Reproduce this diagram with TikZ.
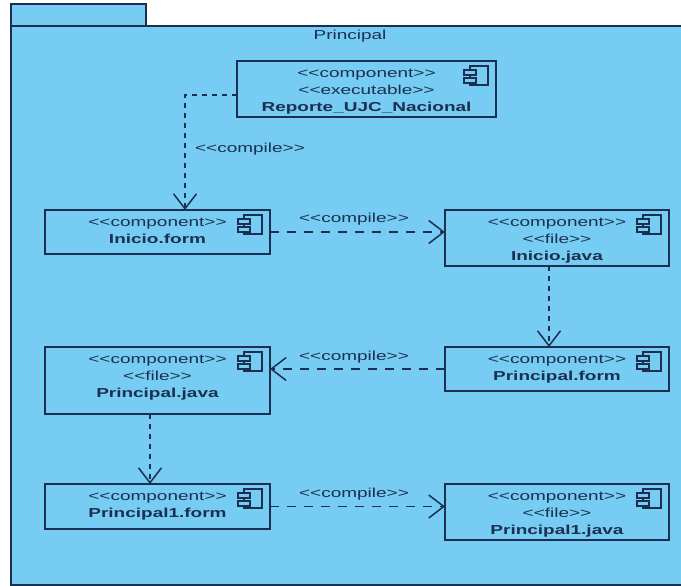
\documentclass[tikz,border=0pt]{standalone}
\usepackage{fontspec}
\usetikzlibrary{arrows.meta,calc}
\newfontfamily\umlfont[FakeStretch=1.46]{Liberation Sans}
\definecolor{pkgfill}{HTML}{76CCF2}
\definecolor{umlline}{HTML}{1B2F50}
\newcommand{\boxbody}[3]{\parbox[c][#2pt][t]{#1pt}{\centering\setlength{\baselineskip}{17pt}\rule{0pt}{16.5pt}#3}}
\newcommand{\nm}[1]{\textbf{#1}}
\tikzset{
  x=1pt,y=-1pt,
  pkgpart/.style={draw=umlline,line width=1.4pt,fill=pkgfill},
  compbox/.style={draw=umlline,line width=1.3pt,fill=pkgfill,inner sep=0pt,outer sep=0pt,text=umlline,font=\umlfont\fontsize{13}{17}\selectfont},
  deplabel/.style={text=umlline,inner sep=0pt,font=\umlfont\fontsize{13}{17}\selectfont},
  dep/.style={draw=umlline,line width=1.3pt,dash pattern=on 5pt off 5pt,-{Straight Barb[length=15pt,width=23pt,line width=1.5pt]}},
  dephoriz/.style={dep,dash pattern=on 9pt off 8pt},
  compicon/.pic={
    \draw[umlline,line width=1.2pt] (-26,5) rectangle (-8,24);
    \draw[umlline,line width=1.2pt,fill=pkgfill] (-32,9) rectangle (-20,14);
    \draw[umlline,line width=1.2pt,fill=pkgfill] (-32,17) rectangle (-20,22);
  }
}
\begin{document}
\begin{tikzpicture}
\useasboundingbox (0,0) rectangle (681,586);
\clip (0,0) rectangle (681,586);
\fill[white] (0,0) rectangle (681,586);
\draw[pkgpart] (11,26) |- (146,4) |- cycle;
\draw[pkgpart] (11,26) rectangle (700,585);
\node[deplabel] (title) at (350,36) {Principal};

\node[compbox] (rep) at (366.5,89) {\boxbody{259}{56}{<<component>>\\<<executable>>\\\nm{Reporte\_UJC\_Nacional}}};
\node[compbox] (inif) at (157.5,232) {\boxbody{225}{44}{<<component>>\\\nm{Inicio.form}}};
\node[compbox] (inij) at (557,238) {\boxbody{224}{56}{<<component>>\\<<file>>\\\nm{Inicio.java}}};
\node[compbox] (prif) at (557,369) {\boxbody{224}{44}{<<component>>\\\nm{Principal.form}}};
\node[compbox] (prij) at (157.5,380.5) {\boxbody{225}{67}{<<component>>\\<<file>>\\\nm{Principal.java}}};
\node[compbox] (pr1f) at (157.5,506.5) {\boxbody{225}{45}{<<component>>\\\nm{Principal1.form}}};
\node[compbox] (pr1j) at (557,512) {\boxbody{224}{56}{<<component>>\\<<file>>\\\nm{Principal1.java}}};

\foreach \n in {rep,inif,inij,prif,prij,pr1f,pr1j}
  \pic at (\n.north east) {compicon};

\draw[dep] ([yshift=-6pt]rep.west) -| ([xshift=27.5pt]inif.north);
\draw[dephoriz] (inif.east) -- (inij.west |- inif.east);
\draw[dep] ([xshift=-8pt]inij.south) -- ([xshift=-8pt]prif.north);
\draw[dephoriz] (prif.west) -- (prij.east |- prif.west);
\draw[dep] ([xshift=-7.5pt]prij.south) -- ([xshift=-7.5pt]pr1f.north);
\draw[dephoriz] (pr1f.east) -- (pr1j.west |- pr1f.east);

\node[deplabel] (l1) at (250,149) {<<compile>>};
\node[deplabel] (l2) at (354,219) {<<compile>>};
\node[deplabel] (l3) at (354,357) {<<compile>>};
\node[deplabel] (l4) at (354,494) {<<compile>>};
\end{tikzpicture}
\end{document}
